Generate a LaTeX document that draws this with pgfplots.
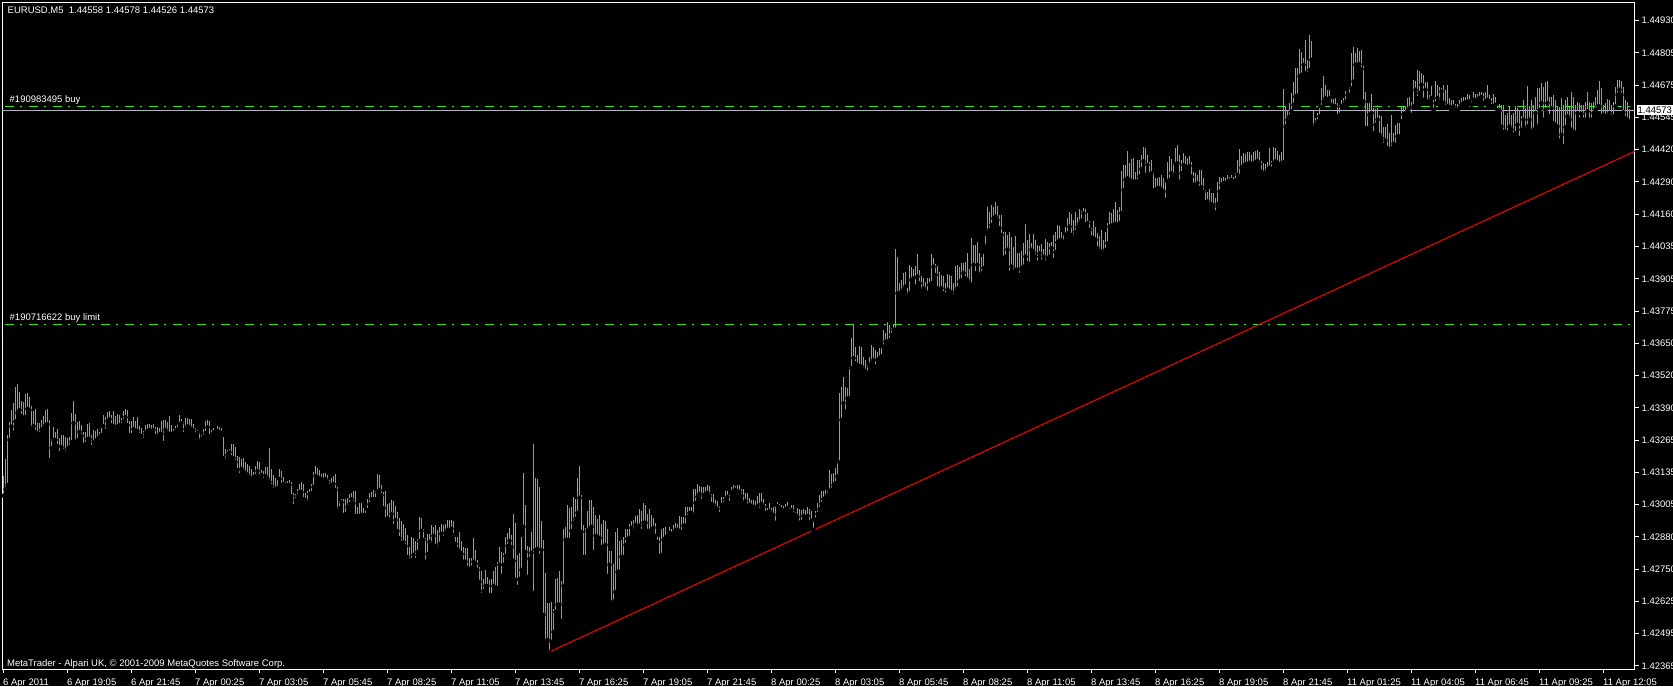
\documentclass[border=0pt]{standalone}
\usepackage{fontspec}
\setmainfont{Liberation Sans}
\usepackage{pgfplots}
\usepackage{pgfplotstable}
\pgfplotsset{compat=1.18}
\definecolor{mtgreen}{RGB}{50,232,30}
\definecolor{mtgray}{RGB}{180,180,190}
\pgfplotstableread{
lo hi
1.43042 1.43121
1.43068 1.43187
1.43084 1.43283
1.43263 1.43334
1.43316 1.43382
1.43292 1.43410
1.43336 1.43473
1.43371 1.43485
1.43382 1.43454
1.43358 1.43418
1.43346 1.43414
1.43354 1.43446
1.43386 1.43450
1.43382 1.43434
1.43306 1.43398
1.43318 1.43378
1.43295 1.43386
1.43283 1.43330
1.43287 1.43330
1.43303 1.43342
1.43310 1.43358
1.43322 1.43382
1.43326 1.43386
1.43183 1.43342
1.43231 1.43267
1.43263 1.43314
1.43263 1.43295
1.43239 1.43306
1.43211 1.43271
1.43235 1.43283
1.43219 1.43283
1.43207 1.43275
1.43227 1.43271
1.43235 1.43275
1.43255 1.43370
1.43330 1.43418
1.43255 1.43366
1.43263 1.43334
1.43295 1.43338
1.43279 1.43322
1.43243 1.43295
1.43247 1.43295
1.43267 1.43326
1.43267 1.43330
1.43235 1.43283
1.43255 1.43303
1.43259 1.43299
1.43267 1.43306
1.43275 1.43295
1.43283 1.43310
1.43318 1.43362
1.43299 1.43354
1.43338 1.43374
1.43346 1.43378
1.43322 1.43362
1.43318 1.43378
1.43314 1.43358
1.43318 1.43366
1.43322 1.43362
1.43322 1.43350
1.43338 1.43378
1.43354 1.43386
1.43322 1.43382
1.43283 1.43338
1.43283 1.43338
1.43306 1.43354
1.43299 1.43338
1.43299 1.43354
1.43283 1.43318
1.43279 1.43310
1.43263 1.43299
1.43291 1.43322
1.43299 1.43326
1.43303 1.43326
1.43299 1.43322
1.43303 1.43326
1.43279 1.43314
1.43271 1.43314
1.43287 1.43310
1.43287 1.43338
1.43251 1.43342
1.43303 1.43342
1.43291 1.43334
1.43287 1.43358
1.43287 1.43322
1.43291 1.43306
1.43295 1.43318
1.43306 1.43326
1.43326 1.43362
1.43330 1.43346
1.43287 1.43334
1.43306 1.43350
1.43318 1.43350
1.43314 1.43346
1.43303 1.43346
1.43303 1.43326
1.43283 1.43310
1.43291 1.43303
1.43255 1.43295
1.43267 1.43283
1.43275 1.43306
1.43291 1.43338
1.43314 1.43342
1.43275 1.43338
1.43283 1.43303
1.43291 1.43310
1.43299 1.43306
1.43299 1.43318
1.43295 1.43314
1.43291 1.43310
1.43191 1.43275
1.43179 1.43227
1.43203 1.43223
1.43215 1.43227
1.43195 1.43247
1.43191 1.43247
1.43175 1.43235
1.43144 1.43199
1.43124 1.43195
1.43148 1.43187
1.43136 1.43191
1.43132 1.43175
1.43124 1.43167
1.43112 1.43159
1.43108 1.43148
1.43116 1.43136
1.43120 1.43159
1.43140 1.43179
1.43116 1.43175
1.43124 1.43144
1.43104 1.43140
1.43120 1.43155
1.43108 1.43155
1.43096 1.43231
1.43080 1.43148
1.43064 1.43124
1.43068 1.43112
1.43072 1.43104
1.43108 1.43148
1.43084 1.43140
1.43088 1.43116
1.43084 1.43096
1.43084 1.43100
1.43084 1.43104
1.43040 1.43096
1.43000 1.43052
1.43024 1.43048
1.43040 1.43068
1.43056 1.43088
1.43056 1.43096
1.43028 1.43088
1.43024 1.43052
1.43012 1.43060
1.43048 1.43068
1.43052 1.43088
1.43076 1.43136
1.43120 1.43159
1.43112 1.43151
1.43112 1.43144
1.43108 1.43128
1.43104 1.43132
1.43108 1.43132
1.43096 1.43124
1.43080 1.43104
1.43084 1.43112
1.43088 1.43120
1.43064 1.43128
1.42981 1.43076
1.42992 1.43020
1.43016 1.43028
1.42965 1.43028
1.42969 1.43028
1.42996 1.43032
1.43008 1.43048
1.43028 1.43052
1.43012 1.43060
1.42961 1.43060
1.42961 1.42996
1.42961 1.43012
1.42965 1.43012
1.42965 1.42992
1.42965 1.42985
1.42985 1.43028
1.43008 1.43052
1.43028 1.43056
1.43028 1.43064
1.43028 1.43060
1.43056 1.43128
1.43064 1.43124
1.43044 1.43084
1.42992 1.43056
1.42945 1.43060
1.42953 1.43008
1.42941 1.43012
1.42969 1.43024
1.42921 1.43020
1.42945 1.43000
1.42901 1.42977
1.42873 1.42953
1.42853 1.42941
1.42857 1.42929
1.42841 1.42913
1.42798 1.42885
1.42782 1.42837
1.42786 1.42877
1.42806 1.42873
1.42786 1.42861
1.42818 1.42869
1.42861 1.42957
1.42902 1.42953
1.42866 1.42910
1.42779 1.42874
1.42810 1.42890
1.42858 1.42890
1.42846 1.42926
1.42882 1.42918
1.42842 1.42926
1.42830 1.42906
1.42850 1.42918
1.42890 1.42930
1.42874 1.42926
1.42894 1.42930
1.42906 1.42946
1.42902 1.42946
1.42910 1.42946
1.42886 1.42942
1.42850 1.42878
1.42830 1.42878
1.42818 1.42898
1.42810 1.42862
1.42779 1.42838
1.42779 1.42834
1.42755 1.42834
1.42747 1.42794
1.42755 1.42794
1.42779 1.42874
1.42771 1.42826
1.42747 1.42787
1.42699 1.42759
1.42647 1.42743
1.42663 1.42711
1.42683 1.42747
1.42683 1.42719
1.42647 1.42707
1.42647 1.42711
1.42683 1.42743
1.42675 1.42759
1.42675 1.42779
1.42767 1.42838
1.42723 1.42818
1.42767 1.42814
1.42802 1.42878
1.42842 1.42894
1.42862 1.42914
1.42838 1.42886
1.42783 1.42969
1.42707 1.42934
1.42679 1.42806
1.42711 1.42814
1.42747 1.42878
1.42918 1.43132
1.42818 1.43005
1.42719 1.42842
1.42791 1.42838
1.42814 1.42898
1.42655 1.43248
1.42826 1.43112
1.42830 1.43109
1.42802 1.43077
1.42826 1.42942
1.42568 1.42866
1.42461 1.42735
1.42469 1.42616
1.42421 1.42616
1.42461 1.42620
1.42500 1.42592
1.42580 1.42711
1.42608 1.42715
1.42608 1.42743
1.42544 1.42703
1.42683 1.42910
1.42866 1.42918
1.42866 1.43005
1.42866 1.42993
1.42902 1.42997
1.42934 1.43037
1.42950 1.43029
1.42973 1.43112
1.43033 1.43160
1.42898 1.43045
1.42798 1.42926
1.42798 1.42914
1.42902 1.42981
1.42910 1.43025
1.42918 1.43025
1.42818 1.42997
1.42882 1.42965
1.42878 1.42950
1.42874 1.42965
1.42838 1.42930
1.42838 1.42946
1.42846 1.42942
1.42723 1.42910
1.42767 1.42822
1.42616 1.42822
1.42620 1.42771
1.42659 1.42898
1.42739 1.42914
1.42739 1.42862
1.42798 1.42866
1.42798 1.42878
1.42846 1.42910
1.42870 1.42910
1.42874 1.42930
1.42914 1.42942
1.42902 1.42946
1.42926 1.42961
1.42914 1.42965
1.42922 1.42989
1.42902 1.42981
1.42934 1.43013
1.42934 1.43005
1.42902 1.42969
1.42902 1.42989
1.42902 1.42965
1.42914 1.42953
1.42882 1.42934
1.42858 1.42882
1.42802 1.42878
1.42806 1.42910
1.42866 1.42914
1.42874 1.42918
1.42882 1.42898
1.42894 1.42918
1.42890 1.42910
1.42894 1.42926
1.42906 1.42934
1.42906 1.42930
1.42902 1.42961
1.42898 1.42957
1.42922 1.42957
1.42922 1.42997
1.42957 1.42997
1.42973 1.42997
1.42973 1.42997
1.42961 1.43069
1.43013 1.43069
1.43037 1.43089
1.43049 1.43081
1.43021 1.43077
1.43041 1.43077
1.43049 1.43077
1.43053 1.43085
1.43041 1.43081
1.43009 1.43049
1.43005 1.43049
1.42993 1.43025
1.42989 1.43021
1.42969 1.43001
1.43001 1.43037
1.43009 1.43037
1.43025 1.43061
1.43037 1.43061
1.43013 1.43045
1.43053 1.43077
1.43061 1.43085
1.43065 1.43081
1.43053 1.43085
1.43057 1.43085
1.43041 1.43069
1.43009 1.43069
1.43021 1.43053
1.43001 1.43053
1.43005 1.43033
1.43001 1.43025
1.42997 1.43025
1.42989 1.43021
1.43001 1.43041
1.42985 1.43053
1.43009 1.43053
1.42997 1.43029
1.42973 1.43009
1.42973 1.42993
1.42981 1.43013
1.42969 1.42993
1.42965 1.42997
1.42934 1.43001
1.43001 1.43017
1.42993 1.43009
1.42985 1.43005
1.42981 1.43001
1.42989 1.43009
1.42993 1.43017
1.42977 1.42997
1.42985 1.43005
1.42969 1.43005
1.42965 1.42977
1.42957 1.42993
1.42934 1.42989
1.42938 1.42985
1.42961 1.42989
1.42953 1.42985
1.42961 1.42997
1.42934 1.42989
1.42942 1.42981
1.42906 1.42946
1.42946 1.42981
1.42969 1.43013
1.42989 1.43045
1.43009 1.43061
1.43029 1.43061
1.43033 1.43065
1.43045 1.43065
1.43061 1.43144
1.43065 1.43128
1.43084 1.43131
1.43091 1.43151
1.43118 1.43177
1.43173 1.43449
1.43343 1.43475
1.43409 1.43515
1.43376 1.43475
1.43429 1.43469
1.43429 1.43555
1.43548 1.43667
1.43588 1.43720
1.43568 1.43634
1.43561 1.43601
1.43555 1.43637
1.43555 1.43634
1.43542 1.43595
1.43535 1.43581
1.43528 1.43561
1.43555 1.43595
1.43568 1.43641
1.43581 1.43634
1.43555 1.43621
1.43581 1.43614
1.43588 1.43628
1.43595 1.43628
1.43634 1.43701
1.43654 1.43687
1.43648 1.43734
1.43661 1.43720
1.43681 1.43707
1.43701 1.43720
1.43701 1.44021
1.43846 1.43992
1.43840 1.43886
1.43853 1.43899
1.43860 1.43926
1.43873 1.43930
1.43833 1.43866
1.43846 1.43959
1.43899 1.43952
1.43906 1.43942
1.43873 1.43955
1.43913 1.44003
1.43886 1.43939
1.43853 1.43913
1.43866 1.43906
1.43853 1.43893
1.43846 1.43906
1.43879 1.43906
1.43886 1.44003
1.43952 1.43985
1.43919 1.43963
1.43866 1.43955
1.43860 1.43932
1.43866 1.43917
1.43846 1.43915
1.43840 1.43886
1.43860 1.43923
1.43853 1.43919
1.43849 1.43913
1.43833 1.43886
1.43853 1.43955
1.43866 1.43959
1.43893 1.43952
1.43899 1.43968
1.43926 1.43966
1.43906 1.43972
1.43899 1.44005
1.43886 1.43942
1.43879 1.44065
1.43959 1.44040
1.43926 1.44038
1.43959 1.44052
1.43919 1.44005
1.43926 1.43989
1.43946 1.44003
1.44032 1.44072
1.44085 1.44188
1.44098 1.44171
1.44118 1.44196
1.44144 1.44191
1.44151 1.44211
1.44138 1.44193
1.44105 1.44158
1.44078 1.44158
1.43985 1.44091
1.43992 1.44091
1.44019 1.44078
1.43928 1.44091
1.43952 1.44069
1.43932 1.44032
1.43939 1.44072
1.43939 1.44005
1.43919 1.44005
1.43946 1.44016
1.43952 1.44048
1.43992 1.44122
1.43966 1.44058
1.43963 1.44082
1.44019 1.44045
1.44008 1.44081
1.43992 1.44058
1.43968 1.44038
1.44005 1.44034
1.43972 1.44042
1.43992 1.44021
1.43968 1.44061
1.43985 1.44052
1.43992 1.44048
1.44025 1.44052
1.43979 1.44078
1.44009 1.44090
1.44048 1.44118
1.44056 1.44114
1.44058 1.44089
1.44048 1.44082
1.44078 1.44111
1.44085 1.44144
1.44111 1.44171
1.44078 1.44160
1.44065 1.44138
1.44090 1.44171
1.44109 1.44151
1.44122 1.44180
1.44135 1.44175
1.44164 1.44184
1.44118 1.44180
1.44125 1.44167
1.44098 1.44135
1.44068 1.44105
1.44065 1.44134
1.44058 1.44111
1.44025 1.44085
1.44012 1.44072
1.44012 1.44098
1.44003 1.44058
1.44019 1.44091
1.44045 1.44125
1.44111 1.44171
1.44115 1.44164
1.44118 1.44180
1.44122 1.44211
1.44118 1.44178
1.44125 1.44191
1.44164 1.44334
1.44257 1.44356
1.44297 1.44356
1.44303 1.44413
1.44297 1.44363
1.44290 1.44379
1.44290 1.44383
1.44290 1.44330
1.44290 1.44376
1.44310 1.44376
1.44339 1.44396
1.44370 1.44427
1.44317 1.44423
1.44356 1.44396
1.44317 1.44370
1.44323 1.44376
1.44254 1.44330
1.44257 1.44303
1.44264 1.44303
1.44264 1.44310
1.44257 1.44317
1.44250 1.44303
1.44217 1.44290
1.44290 1.44370
1.44297 1.44390
1.44323 1.44379
1.44310 1.44366
1.44360 1.44423
1.44363 1.44436
1.44290 1.44396
1.44323 1.44376
1.44356 1.44403
1.44350 1.44392
1.44343 1.44383
1.44352 1.44390
1.44310 1.44370
1.44277 1.44330
1.44273 1.44323
1.44284 1.44317
1.44264 1.44337
1.44268 1.44337
1.44250 1.44303
1.44207 1.44257
1.44211 1.44250
1.44197 1.44260
1.44201 1.44244
1.44191 1.44244
1.44167 1.44224
1.44201 1.44290
1.44250 1.44310
1.44277 1.44306
1.44284 1.44310
1.44281 1.44303
1.44290 1.44317
1.44294 1.44310
1.44297 1.44317
1.44290 1.44310
1.44294 1.44323
1.44317 1.44376
1.44310 1.44419
1.44345 1.44392
1.44352 1.44403
1.44360 1.44399
1.44358 1.44406
1.44365 1.44406
1.44355 1.44396
1.44362 1.44406
1.44368 1.44410
1.44372 1.44416
1.44360 1.44406
1.44330 1.44372
1.44318 1.44365
1.44322 1.44360
1.44335 1.44370
1.44345 1.44423
1.44340 1.44374
1.44362 1.44426
1.44370 1.44423
1.44365 1.44410
1.44356 1.44396
1.44362 1.44406
1.44368 1.44659
1.44509 1.44591
1.44536 1.44575
1.44549 1.44602
1.44569 1.44642
1.44595 1.44687
1.44628 1.44741
1.44631 1.44741
1.44708 1.44816
1.44714 1.44807
1.44754 1.44781
1.44721 1.44854
1.44718 1.44774
1.44734 1.44873
1.44774 1.44847
1.44502 1.44569
1.44516 1.44542
1.44529 1.44562
1.44549 1.44582
1.44586 1.44661
1.44608 1.44710
1.44622 1.44675
1.44615 1.44655
1.44622 1.44655
1.44595 1.44622
1.44589 1.44618
1.44589 1.44622
1.44549 1.44602
1.44555 1.44595
1.44589 1.44615
1.44595 1.44622
1.44608 1.44652
1.44635 1.44644
1.44635 1.44668
1.44661 1.44803
1.44688 1.44827
1.44754 1.44800
1.44754 1.44820
1.44757 1.44811
1.44737 1.44814
1.44608 1.44750
1.44502 1.44648
1.44502 1.44602
1.44555 1.44602
1.44562 1.44639
1.44482 1.44582
1.44516 1.44578
1.44536 1.44582
1.44476 1.44555
1.44463 1.44549
1.44436 1.44509
1.44453 1.44509
1.44423 1.44520
1.44416 1.44482
1.44423 1.44555
1.44440 1.44485
1.44436 1.44516
1.44469 1.44522
1.44469 1.44525
1.44529 1.44591
1.44558 1.44589
1.44562 1.44591
1.44569 1.44622
1.44582 1.44628
1.44555 1.44608
1.44589 1.44695
1.44655 1.44691
1.44622 1.44734
1.44642 1.44728
1.44675 1.44721
1.44615 1.44714
1.44655 1.44688
1.44608 1.44688
1.44608 1.44635
1.44622 1.44671
1.44575 1.44615
1.44602 1.44691
1.44622 1.44675
1.44608 1.44668
1.44648 1.44661
1.44604 1.44675
1.44586 1.44655
1.44591 1.44675
1.44586 1.44622
1.44573 1.44615
1.44589 1.44615
1.44575 1.44599
1.44575 1.44598
1.44582 1.44615
1.44595 1.44622
1.44602 1.44628
1.44604 1.44626
1.44608 1.44639
1.44608 1.44635
1.44595 1.44618
1.44615 1.44648
1.44608 1.44639
1.44618 1.44639
1.44622 1.44648
1.44626 1.44648
1.44602 1.44642
1.44608 1.44648
1.44615 1.44675
1.44608 1.44635
1.44589 1.44622
1.44591 1.44639
1.44595 1.44626
1.44573 1.44595
1.44573 1.44598
1.44509 1.44595
1.44488 1.44594
1.44489 1.44555
1.44482 1.44562
1.44509 1.44589
1.44496 1.44555
1.44476 1.44562
1.44482 1.44589
1.44516 1.44582
1.44463 1.44575
1.44496 1.44549
1.44536 1.44615
1.44496 1.44582
1.44509 1.44671
1.44536 1.44589
1.44489 1.44615
1.44496 1.44595
1.44562 1.44628
1.44509 1.44661
1.44575 1.44661
1.44602 1.44681
1.44536 1.44668
1.44575 1.44685
1.44602 1.44688
1.44549 1.44628
1.44582 1.44628
1.44522 1.44635
1.44509 1.44615
1.44509 1.44589
1.44453 1.44586
1.44476 1.44622
1.44430 1.44595
1.44506 1.44615
1.44549 1.44628
1.44536 1.44589
1.44496 1.44648
1.44485 1.44628
1.44485 1.44595
1.44562 1.44608
1.44536 1.44602
1.44559 1.44595
1.44536 1.44595
1.44536 1.44608
1.44569 1.44648
1.44536 1.44608
1.44536 1.44602
1.44562 1.44608
1.44575 1.44628
1.44589 1.44655
1.44589 1.44688
1.44549 1.44661
1.44555 1.44595
1.44549 1.44602
1.44549 1.44618
1.44562 1.44615
1.44546 1.44595
1.44549 1.44608
1.44589 1.44668
1.44635 1.44695
1.44655 1.44695
1.44635 1.44688
1.44565 1.44668
1.44542 1.44615
1.44536 1.44608
1.44526 1.44578
}\bars

\begin{document}
\begin{tikzpicture}[font=\fontsize{9.5}{11}\selectfont]
\fill[black] (-2pt,-17pt) rectangle (1671pt,669pt);
\useasboundingbox (-2pt,-17pt) rectangle (1671pt,669pt);
\begin{axis}[
  at={(0pt,0pt)}, anchor=south west,
  scale only axis, width=1633pt, height=666pt,
  xmin=-0.75, xmax=815.75, ymin=1.42353, ymax=1.45000,
  clip=false,
  axis line style={white, line width=1pt},
  xtick pos=left, ytick pos=right,
  xticklabel pos=left, yticklabel pos=right,
  tick align=outside,
  major tick length=4pt,
  tick style={white, line width=1pt},
  scaled y ticks=false,
  xtick={0,32,...,800},
  xticklabels={6 Apr 2011,6 Apr 19:05,6 Apr 21:45,7 Apr 00:25,7 Apr 03:05,7 Apr 05:45,7 Apr 08:25,7 Apr 11:05,7 Apr 13:45,7 Apr 16:25,7 Apr 19:05,7 Apr 21:45,8 Apr 00:25,8 Apr 03:05,8 Apr 05:45,8 Apr 08:25,8 Apr 11:05,8 Apr 13:45,8 Apr 16:25,8 Apr 19:05,8 Apr 21:45,11 Apr 01:25,11 Apr 04:05,11 Apr 06:45,11 Apr 09:25,11 Apr 12:05},
  ytick={1.42365,1.4249325,1.426215,1.4274975,1.42878,1.4300625,1.431345,1.4326275,1.43391,1.4351925,1.436475,1.4377575,1.43904,1.4403225,1.441605,1.4428875,1.44417,1.4454525,1.446735,1.4480175,1.4493},
  yticklabels={1.42365,1.42495,1.42625,1.42750,1.42880,1.43005,1.43135,1.43265,1.43390,1.43520,1.43650,1.43775,1.43905,1.44035,1.44160,1.44290,1.44420,1.44545,1.44675,1.44805,1.44930},
  tick label style={font=\fontsize{9.5}{11}\selectfont, text=white, inner sep=0pt},
  xticklabel style={anchor=north west, xshift=-0.5pt, yshift=-6pt},
  yticklabel style={anchor=west, xshift=2.5pt},
]
\addplot[mtgray, line width=1pt, forget plot] coordinates {(-0.75,1.44573) (815.75,1.44573)};
\addplot[mtgreen, line width=1pt, dash pattern=on 9pt off 6pt on 2pt off 7pt, forget plot] coordinates {(0.5,1.44590) (813.5,1.44590)};
\addplot[mtgreen, line width=1pt, dash pattern=on 9pt off 6pt on 2pt off 7pt, forget plot] coordinates {(0.5,1.43723) (813.5,1.43723)};
\addplot[only marks, mark=none, forget plot,
  error bars/.cd, y dir=plus, y explicit, error mark=none,
  error bar style={draw=mtgreen, line width=1.25pt, solid}]
  table[x expr=\coordindex, y=lo, y error plus expr=\thisrow{hi}-\thisrow{lo}] {\bars};
\addplot[red, line width=1pt, forget plot] coordinates {(273,1.42421) (815.75,1.44411)};
\node[anchor=west, inner sep=0pt, text=white] at (axis cs:2,1.44970) {EURUSD,M5\ \ 1.44558 1.44578 1.44526 1.44573};
\node[anchor=west, inner sep=0pt, text=white] at (axis cs:3,1.44615) {\#190983495 buy};
\node[anchor=west, inner sep=0pt, text=white] at (axis cs:3,1.43748) {\#190716622 buy limit};
\node[anchor=west, inner sep=0pt, text=white] at (axis cs:1.7,1.42373) {MetaTrader - Alpari UK, © 2001-2009 MetaQuotes Software Corp.};
\coordinate (cp) at (axis cs:815.75,1.44573);
\end{axis}
\node[anchor=west, fill=white, text=black, inner sep=1pt, minimum height=10pt, xshift=1.5pt] at (cp) {1.44573};
\end{tikzpicture}
\end{document}
